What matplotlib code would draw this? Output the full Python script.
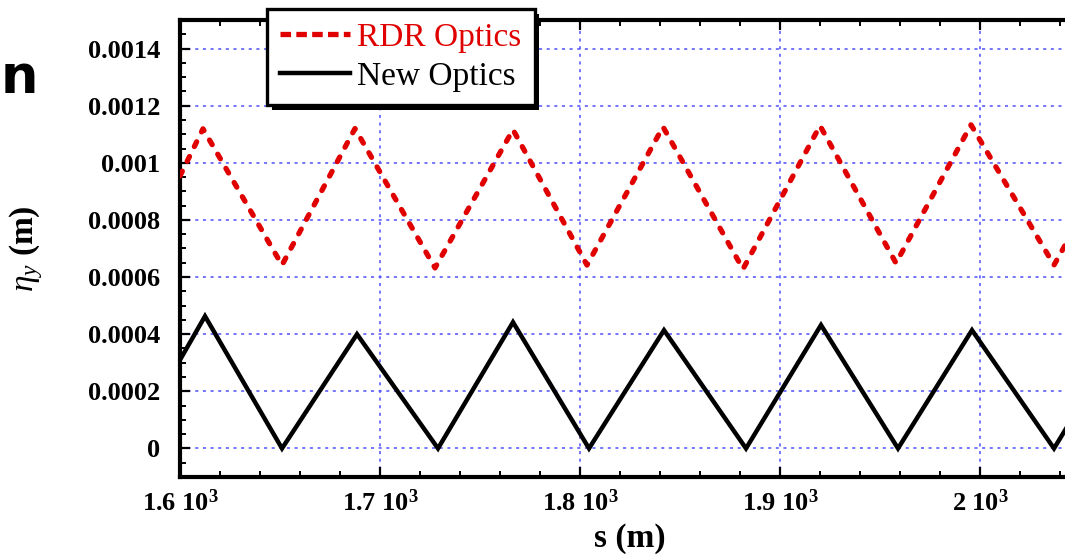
import matplotlib
matplotlib.use("Agg")
import matplotlib.pyplot as plt
import matplotlib.patheffects as pe
from matplotlib.ticker import MultipleLocator, FixedLocator, FixedFormatter

s_rdr = [1600, 1611.5, 1651, 1687.5, 1727.5, 1766.5, 1803.5, 1841.5,
         1881.5, 1920, 1958, 1995.5, 2037, 2050]
eta_rdr = [0.000954, 0.001119, 0.000642, 0.00112, 0.000632, 0.001116, 0.000642,
           0.001126, 0.000628, 0.00113, 0.000649, 0.001133, 0.000642, 0.000805]

s_new = [1600, 1612.5, 1651, 1688.5, 1729, 1766.5, 1804.5, 1842,
         1883, 1920.5, 1959, 1996, 2037, 2050]
eta_new = [0.00031, 0.000463, 0.0, 0.0004, 0.0, 0.000442, 0.0, 0.000414,
           0.0, 0.000432, 0.0, 0.000414, 0.0, 0.00015]

x_ticks = [1600, 1700, 1800, 1900, 2000]
x_labels = ["1.6 10$^3$", "1.7 10$^3$", "1.8 10$^3$", "1.9 10$^3$", "2 10$^3$"]
y_ticks = [0, 0.0002, 0.0004, 0.0006, 0.0008, 0.001, 0.0012, 0.0014]
y_labels = ["0", "0.0002", "0.0004", "0.0006", "0.0008", "0.001", "0.0012", "0.0014"]

SERIF = "Liberation Serif"
plt.rcParams["font.family"] = SERIF
plt.rcParams["mathtext.fontset"] = "custom"
plt.rcParams["mathtext.rm"] = "Liberation Serif:bold"
plt.rcParams["mathtext.bf"] = "Liberation Serif:bold"
plt.rcParams["mathtext.it"] = "Liberation Serif:italic"

W, H = 1065, 557
fig = plt.figure(figsize=(W / 100, H / 100), dpi=100)
ax = fig.add_axes([180 / W, (H - 477) / H, 900 / W, 457 / H])

red_line, = ax.plot(s_rdr, eta_rdr, color="#e00000", lw=3.8, dashes=(1.0, 2.1),
                    dash_capstyle="round", label="RDR Optics", zorder=3)
black_line, = ax.plot(s_new, eta_new, color="black", lw=3.2, label="New Optics",
                      solid_joinstyle="miter", zorder=3)

ax.set_xlim(1600, 2050)
ax.set_ylim(-0.0001, 0.0015)

ax.xaxis.set_major_locator(FixedLocator(x_ticks))
ax.xaxis.set_major_formatter(FixedFormatter(x_labels))
ax.xaxis.set_minor_locator(MultipleLocator(20))
ax.yaxis.set_major_locator(FixedLocator(y_ticks))
ax.yaxis.set_major_formatter(FixedFormatter(y_labels))
ax.yaxis.set_minor_locator(MultipleLocator(0.00005))

ax.tick_params(which="both", direction="in", top=True, right=True)
ax.tick_params(which="major", length=7.5, width=1.6)
ax.tick_params(which="minor", length=4, width=1.4)
ax.tick_params(axis="x", which="major", pad=9)
ax.tick_params(axis="y", which="major", pad=14)
for lbl in ax.get_xticklabels() + ax.get_yticklabels():
    lbl.set_fontsize(19)
    lbl.set_fontweight("bold")

for sp in ax.spines.values():
    sp.set_linewidth(3.0)

ax.grid(True, which="major", color="#5050ff", lw=1.1, linestyle=(0, (2, 3)))

ax.set_xlabel("s (m)", fontsize=24, fontweight="bold")
ax.xaxis.set_label_coords(0.5, -0.1)
ax.set_ylabel(r"$\eta_y$ (m)", fontsize=24, fontweight="bold")
ax.yaxis.set_label_coords(-0.15, 0.5)

leg = ax.legend(loc="upper left", bbox_to_anchor=(0.0967, 1.024), borderaxespad=0,
                fontsize=24, handlelength=2.1, handletextpad=0.2, labelspacing=0.25,
                borderpad=0.4, fancybox=False, framealpha=1, edgecolor="black")
leg.get_frame().set_linewidth(2.4)
leg.get_frame().set_path_effects([
    pe.SimplePatchShadow(offset=(3.5, -3.5), shadow_rgbFace="black", alpha=1),
    pe.Normal()])
leg.get_lines()[0].set_dash_capstyle("butt")
leg.get_lines()[0].set_dashes((2.0, 1.0))
leg.get_texts()[0].set_color("#e00000")
leg.set_zorder(5)

# leftover of a slide title at the left edge
fig.text(0.5 / W, (H - 93) / H, "n", fontsize=38, fontweight="bold",
         family="DejaVu Sans", ha="left", va="baseline")

fig.savefig("out.png", dpi=100)
